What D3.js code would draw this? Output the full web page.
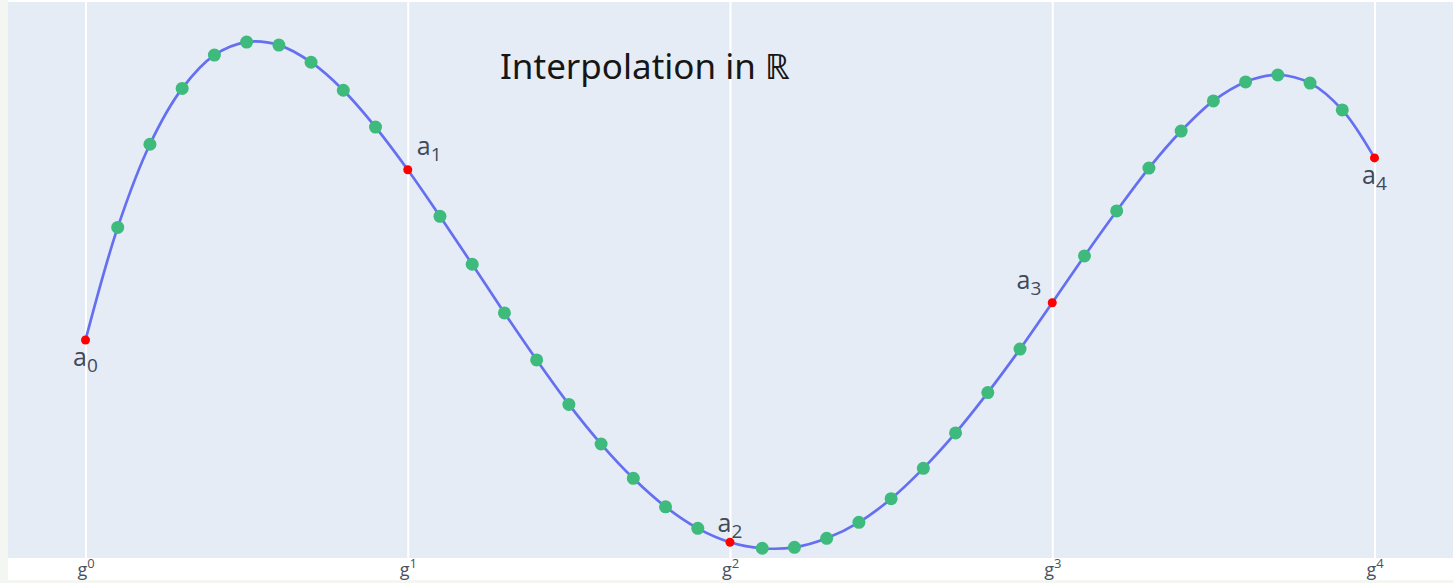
<!DOCTYPE html>
<html>
<head>
<meta charset="utf-8">
<script src="https://cdn.jsdelivr.net/npm/d3@7"></script>
<style>
  body { margin: 0; background: #f4f6f1; }
  svg { display: block; }
</style>
</head>
<body>
<div id="my_dataviz"></div>
<script>
// knots a_0..a_4 (red) at g^0..g^4
var knotX = [0, 1, 2, 3, 4];
var knotY = [-0.259, 0.476, -1.132, -0.098, 0.527];
var knotNames = ["0", "1", "2", "3", "4"];
var knotPos = ["bottom center", "top right", "top center", "top left", "bottom center"];

// interpolated samples (green)
var sampleX = [0.1, 0.2, 0.3, 0.4, 0.5, 0.6, 0.7, 0.8, 0.9,
               1.1, 1.2, 1.3, 1.4, 1.5, 1.6, 1.7, 1.8, 1.9,
               2.1, 2.2, 2.3, 2.4, 2.5, 2.6, 2.7, 2.8, 2.9,
               3.1, 3.2, 3.3, 3.4, 3.5, 3.6, 3.7, 3.8, 3.9];
var sampleY = [0.227, 0.586, 0.827, 0.971, 1.027, 1.014, 0.940, 0.819, 0.660,
               0.275, 0.068, -0.142, -0.345, -0.537, -0.708, -0.856, -0.979, -1.072,
               -1.158, -1.154, -1.115, -1.046, -0.944, -0.813, -0.660, -0.486, -0.298,
               0.104, 0.298, 0.483, 0.643, 0.773, 0.855, 0.885, 0.850, 0.734];

var tickLabels = ["0", "1", "2", "3", "4"];
var title = "Interpolation in \u211D";

var W = 1453, H = 580;
var plot = {left: 8, top: 2, right: 1453, bottom: 558};

var svg = d3.select('#my_dataviz')
    .append('svg')
    .attr('width', W)
    .attr('height', H);

svg.append('rect')
    .attr('x', 8).attr('y', 0)
    .attr('width', W - 8).attr('height', H)
    .attr('fill', '#ffffff');

svg.append('rect')
    .attr('x', plot.left).attr('y', plot.top)
    .attr('width', plot.right - plot.left).attr('height', plot.bottom - plot.top)
    .attr('fill', '#e5ecf6');

var x = d3.scaleLinear()
    .domain([0, 4])
    .range([85.5, 1374.5]);
var y = d3.scaleLinear()
    .domain([-1.2, 1.2])
    .range([plot.bottom, plot.top]);

// x axis: white grid lines + g^k labels
var xAxis = svg.append('g')
    .attr('transform', 'translate(0,' + plot.bottom + ')')
    .call(d3.axisBottom(x)
        .tickValues(knotX)
        .tickSize(-(plot.bottom - plot.top))
        .tickFormat(''));
xAxis.select('.domain').remove();
xAxis.selectAll('.tick line')
    .attr('stroke', '#ffffff')
    .attr('stroke-width', 2);
xAxis.selectAll('.tick text')
    .attr('y', 18)
    .attr('dy', null)
    .attr('fill', '#4a5262')
    .style('font-family', '"Open Sans", sans-serif')
    .style('font-size', '18px')
    .each(function(d, i) {
        var t = d3.select(this);
        t.append('tspan').text('g');
        t.append('tspan')
            .attr('dy', -8)
            .style('font-size', '13px')
            .text(tickLabels[i]);
    });

// points
var pts = [];
knotX.forEach(function(v, i) { pts.push([v, knotY[i]]); });
sampleX.forEach(function(v, i) { pts.push([v, sampleY[i]]); });
pts.sort(function(a, b) { return a[0] - b[0]; });

var line = d3.line()
    .x(function(d) { return x(d[0]); })
    .y(function(d) { return y(d[1]); })
    .curve(d3.curveCatmullRom.alpha(0.5));

svg.append('path')
    .datum(pts)
    .attr('d', line)
    .attr('fill', 'none')
    .attr('stroke', '#6570f0')
    .attr('stroke-width', 2.7);

svg.append('g')
    .selectAll('circle')
    .data(sampleX)
    .enter().append('circle')
    .attr('cx', function(d) { return x(d); })
    .attr('cy', function(d, i) { return y(sampleY[i]); })
    .attr('r', 6.5)
    .attr('fill', '#3dba7c');

svg.append('g')
    .selectAll('circle')
    .data(knotX)
    .enter().append('circle')
    .attr('cx', function(d) { return x(d); })
    .attr('cy', function(d, i) { return y(knotY[i]); })
    .attr('r', 4.5)
    .attr('fill', '#ff0000');

// knot labels a_k
var offs = {
    'bottom center': {dx: 0, dy: 26, anchor: 'middle'},
    'top right': {dx: 9, dy: -15, anchor: 'start'},
    'top center': {dx: 0, dy: -10, anchor: 'middle'},
    'top left': {dx: -11, dy: -14, anchor: 'end'}
};
svg.append('g')
    .selectAll('text')
    .data(knotX)
    .enter().append('text')
    .attr('x', function(d, i) { return x(d) + offs[knotPos[i]].dx; })
    .attr('y', function(d, i) { return y(knotY[i]) + offs[knotPos[i]].dy; })
    .attr('text-anchor', function(d, i) { return offs[knotPos[i]].anchor; })
    .attr('fill', '#404a5a')
    .style('font-family', '"Open Sans", sans-serif')
    .style('font-size', '25px')
    .each(function(d, i) {
        var t = d3.select(this);
        t.append('tspan').text('a');
        t.append('tspan')
            .attr('dy', 6)
            .style('font-size', '19px')
            .text(knotNames[i]);
    });

svg.append('text')
    .attr('x', 500)
    .attr('y', 79)
    .attr('fill', '#161616')
    .style('font-family', '"Noto Sans", "DejaVu Sans", sans-serif')
    .style('font-size', '35px')
    .text(title);
</script>
</body>
</html>
